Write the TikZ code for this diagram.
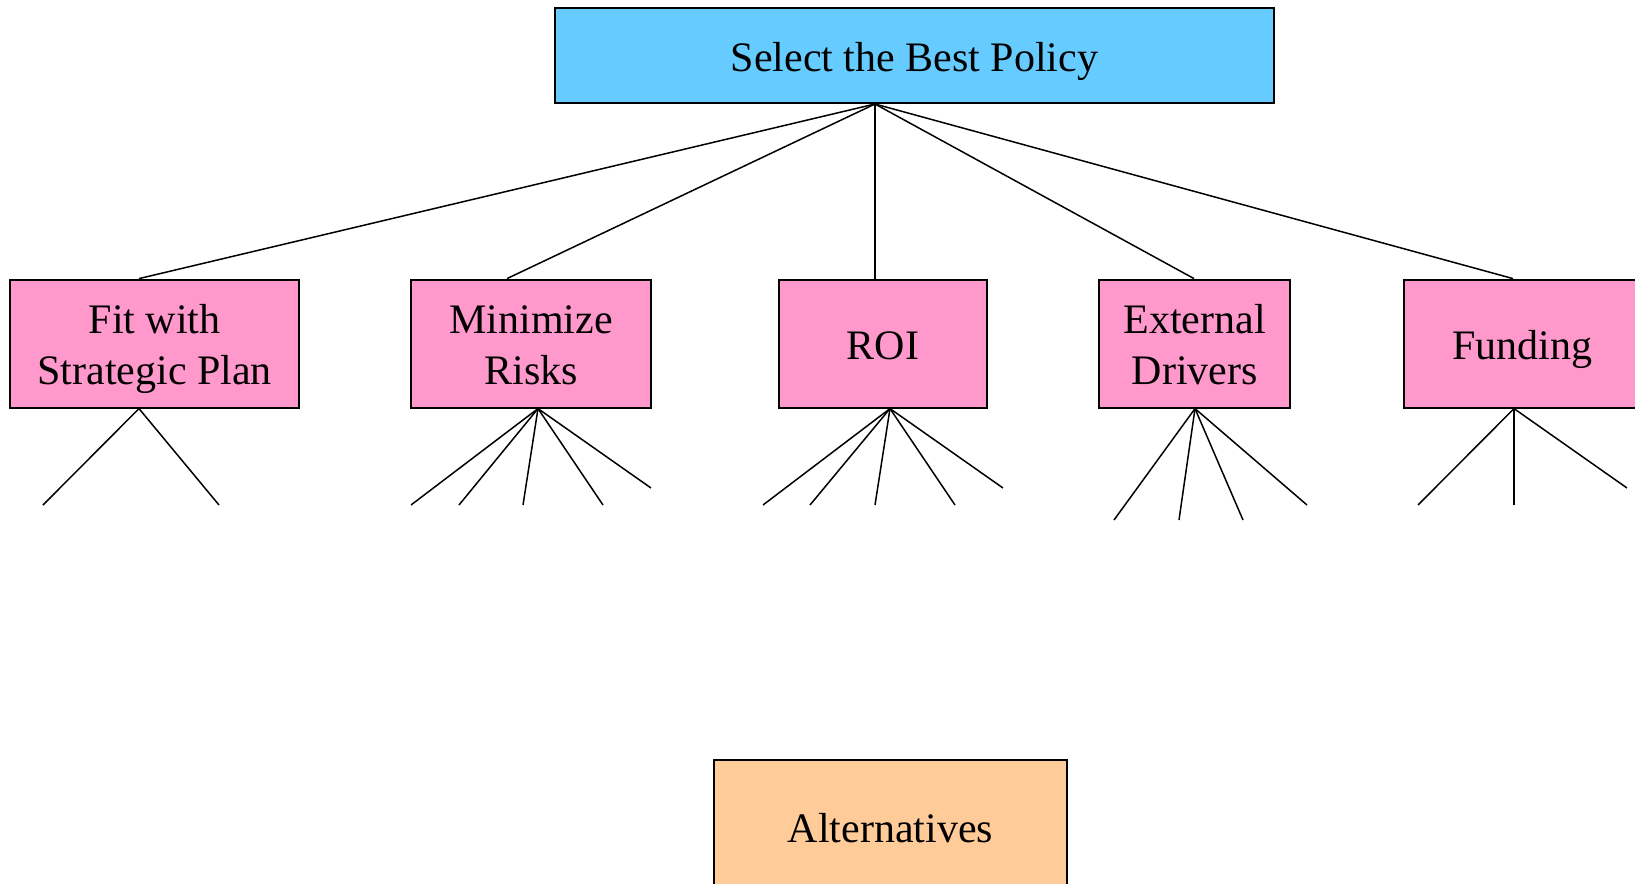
\documentclass[tikz,border=0pt]{standalone}
\usepackage{fontspec}
\setmainfont{Liberation Serif}
\definecolor{goalblue}{HTML}{66CCFF}
\definecolor{critpink}{HTML}{FF99CC}
\definecolor{altorange}{HTML}{FFCC99}
\tikzset{
  box/.style={draw, line width=1pt, inner sep=0pt, align=center,
    text height=15.6pt, text depth=0pt,
    font=\fontsize{21}{25.5}\selectfont},
  crit/.style={box, fill=critpink, minimum height=64pt},
  twolines/.style={text height=41.1pt},
  link/.style={line width=0.75pt}
}
\begin{document}
\begin{tikzpicture}[x=0.5pt,y=-0.5pt]
    \useasboundingbox (0,0) rectangle (1635,884);
    % goal, criteria and alternatives
    \node[box, fill=goalblue, minimum width=359.5pt, minimum height=47.3pt] (goal) at (914.5,55.7) {Select the Best Policy};
    \node[crit, twolines, minimum width=144.3pt] (fit) at (154.7,343.6) {Fit with\\Strategic Plan};
    \node[crit, twolines, minimum width=120pt] (risk) at (531,343.6) {Minimize\\Risks};
    \node[crit, minimum width=103.7pt] (roi) at (883,343.6) {ROI};
    \node[crit, twolines, minimum width=95.7pt] (ext) at (1194.7,343.6) {External\\Drivers};
    \node[crit, minimum width=118.7pt] (fund) at (1522.3,343.6) {Funding};
    \node[box, fill=altorange, minimum width=176.5pt, minimum height=67pt] (alt) at (890.5,827) {Alternatives};
    % goal to criteria
    \coordinate (hub) at (goal.south -| 875,0);
    \foreach \n/\x in {fit/139, risk/507, roi/875, ext/1194, fund/1513}
    {   \draw[link] (hub) -- (\n.north -| \x,0);
    }
    % criteria to sub-criteria
    \foreach \n/\x/\ends in {
        fit/139/{43/505,219/505},
        risk/538/{411/505,459/505,523/505,603/505,651/488},
        roi/890/{763/505,810/505,875/505,955/505,1003/488},
        ext/1195/{1114/520,1179/520,1243/520,1307/505},
        fund/1514/{1418/505,1514/505,1627/488}}
    { \foreach \ex/\ey [count=\i] in \ends
    {   \coordinate (\n-leaf\i) at (\ex,\ey);
        \draw[link] (\n.south -| \x,0) -- (\n-leaf\i);
    }
    }
\end{tikzpicture}
\end{document}
